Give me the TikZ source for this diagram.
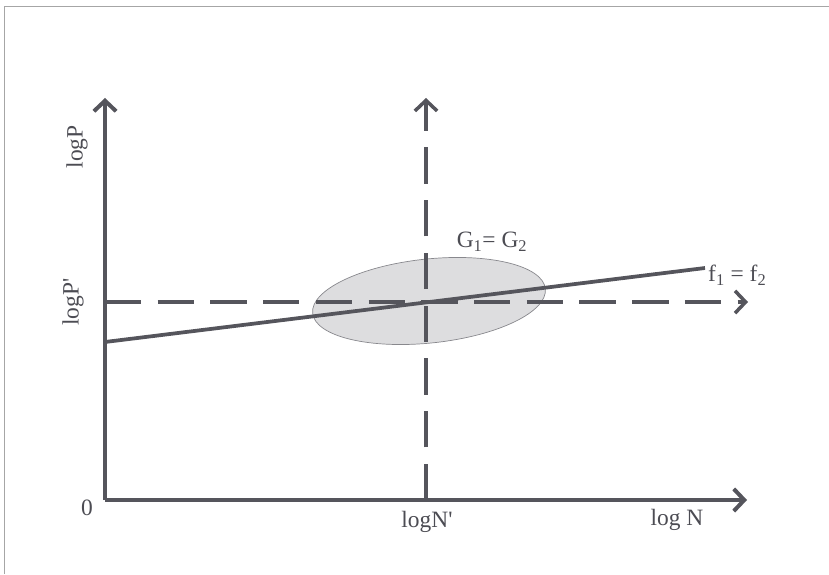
\documentclass[tikz,border=0pt]{standalone}
\usepackage{fontspec}
\setmainfont{Liberation Serif}
\usepackage{tikz}
\usetikzlibrary{arrows.meta}

\definecolor{inkgray}{HTML}{55555C}
\definecolor{blobgray}{HTML}{DDDDDF}

\begin{document}
\begin{tikzpicture}[
  x=0.03cm, y=0.03cm,
  axis/.style={draw=inkgray, line width=3.8pt, -{Straight Barb[length=9pt, width=19pt, line width=3.4pt]}},
  guide/.style={draw=inkgray, line width=3.2pt, dash pattern=on 31pt off 14pt, -{Straight Barb[length=9pt, width=19pt, line width=3pt]}},
  curve/.style={draw=inkgray, line width=3.2pt},
  blob/.style={fill=blobgray, draw=inkgray!70, line width=0.6pt},
  lbl/.style={text=inkgray!90!black, font=\fontsize{20}{24}\selectfont, inner sep=0pt}
]
  \useasboundingbox (0,0) rectangle (829,574);
  % frame
  \draw[gray!70, line width=0.8pt] (4,0) -- (4,568) -- (829,568);

  % points
  \coordinate (O) at (105,74);
  \coordinate (ytip) at (105,476);
  \coordinate (xtip) at (747,74);
  \coordinate (Nbase) at (426,74);
  \coordinate (Ntip) at (426,476);
  \coordinate (Pbase) at (105,272);
  \coordinate (Ptip) at (748,272);
  \coordinate (fstart) at (105,232);
  \coordinate (fend) at (705,306);
  \coordinate (G) at (429,273);

  % region
  \path[blob, rotate around={6:(G)}] (G) ellipse [x radius=117, y radius=42];

  % guides
  \draw[guide] (Nbase) -- (Ntip);
  \draw[guide] (Pbase) -- (Ptip);

  % axes
  \draw[axis] (O) -- (ytip);
  \draw[axis] (O) -- (xtip);

  % f line
  \draw[curve] (fstart) -- (fend);

  % labels
  \node[lbl, rotate=90] (logP) at (77,427) {logP};
  \node[lbl, rotate=90] (logPp) at (73,272) {logP\textquotesingle};
  \node[lbl] (zero) at (87,66) {0};
  \node[lbl] (logNp) at (427,52) {logN\textquotesingle};
  \node[lbl] (logN) at (677,54) {log N};
  \node[lbl] (Glbl) at (492,332) {G\textsubscript{1}= G\textsubscript{2}};
  \node[lbl, anchor=west] (flbl) at (708,299) {f\textsubscript{1} = f\textsubscript{2}};
\end{tikzpicture}
\end{document}
